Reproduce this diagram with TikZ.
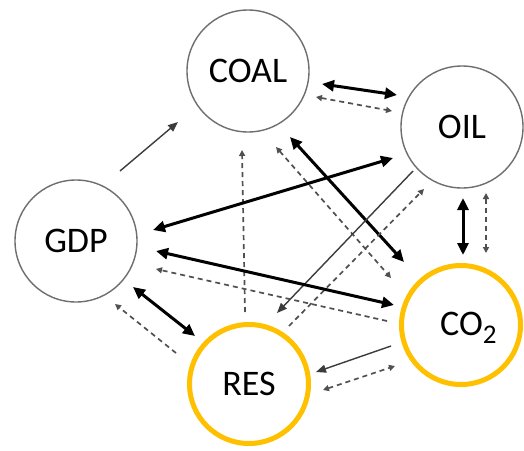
\documentclass[tikz,border=0pt]{standalone}
\usepackage{fontspec}
\setmainfont{Carlito}
\usetikzlibrary{arrows.meta}
\definecolor{ringgray}{HTML}{6E6E6E}
\definecolor{ringyellow}{HTML}{FFC000}
\definecolor{linegray}{HTML}{3C3C3C}
\definecolor{dashgray}{HTML}{505050}
\tikzset{
  var/.style={circle, draw=ringgray, line width=1.4pt, minimum size=122pt, inner sep=0pt,
    font=\fontsize{36}{40}\selectfont},
  outvar/.style={circle, draw=ringyellow, line width=5pt, minimum size=119pt, inner sep=0pt,
    font=\fontsize{36}{40}\selectfont},
  strong/.style={draw=black, line width=3pt, {Triangle[length=12pt,width=11pt]}-{Triangle[length=12pt,width=11pt]}},
  weak/.style={draw=linegray, line width=1.4pt, -{Triangle[length=10pt,width=8pt]}},
  dashone/.style={draw=dashgray, line width=1.7pt, dash pattern=on 5pt off 4pt, -{Triangle[length=6pt,width=6pt]}},
  dashtwo/.style={draw=dashgray, line width=1.7pt, dash pattern=on 5pt off 4pt, {Triangle[length=6pt,width=6pt]}-{Triangle[length=6pt,width=6pt]}}
}
\begin{document}
\begin{tikzpicture}[x=1pt,y=-1pt]
\useasboundingbox (0,0) rectangle (524,450);
\fill[white] (0,0) rectangle (524,450);
% nodes
\node[var] (coal) at (248,71) {COAL};
\node[var] (oil) at (462,127) {OIL};
\node[var] (gdp) at (76,241) {GDP};
\node[outvar] (co2) at (461,325) {};
\node[outvar] (res) at (249,384) {RES};
\node[font=\fontsize{36}{40}\selectfont, inner sep=0pt, anchor=base west] (co2lab) at (440,335) {CO\raisebox{-8pt}{\fontsize{27}{27}\selectfont 2}};
% connector end points
\coordinate (a1s) at (120,171); \coordinate (a1e) at (178,122);
\coordinate (a2s) at (322,84);  \coordinate (a2e) at (397,95);
\coordinate (a3s) at (316,97);  \coordinate (a3e) at (392,111);
\coordinate (a4s) at (290,137); \coordinate (a4e) at (404,262);
\coordinate (a5s) at (276,147); \coordinate (a5e) at (391,278);
\coordinate (a6s) at (245,312); \coordinate (a6e) at (242,150);
\coordinate (a7s) at (393,158); \coordinate (a7e) at (153,230);
\coordinate (a8s) at (413,171); \coordinate (a8e) at (277,313);
\coordinate (a9s) at (289,326); \coordinate (a9e) at (424,189);
\coordinate (a10s) at (463,198); \coordinate (a10e) at (463,255);
\coordinate (a11s) at (486,193); \coordinate (a11e) at (486,253);
\coordinate (a12s) at (156,251); \coordinate (a12e) at (394,305);
\coordinate (a13s) at (387,321); \coordinate (a13e) at (156,269);
\coordinate (a14s) at (133,287); \coordinate (a14e) at (195,336);
\coordinate (a15s) at (176,353); \coordinate (a15e) at (115,304);
\coordinate (a16s) at (391,346); \coordinate (a16e) at (316,372);
\coordinate (a17s) at (323,390); \coordinate (a17e) at (395,366);
% connectors
\draw[weak] (a1s) -- (a1e);
\draw[strong] (a2s) -- (a2e);
\draw[dashtwo] (a3s) -- (a3e);
\draw[strong] (a4s) -- (a4e);
\draw[dashtwo] (a5s) -- (a5e);
\draw[dashone] (a6s) -- (a6e);
\draw[strong] (a7s) -- (a7e);
\draw[weak] (a8s) -- (a8e);
\draw[dashone] (a9s) -- (a9e);
\draw[strong] (a10s) -- (a10e);
\draw[dashtwo] (a11s) -- (a11e);
\draw[strong] (a12s) -- (a12e);
\draw[dashone] (a13s) -- (a13e);
\draw[strong] (a14s) -- (a14e);
\draw[dashone] (a15s) -- (a15e);
\draw[weak] (a16s) -- (a16e);
\draw[dashtwo] (a17s) -- (a17e);
\end{tikzpicture}
\end{document}
